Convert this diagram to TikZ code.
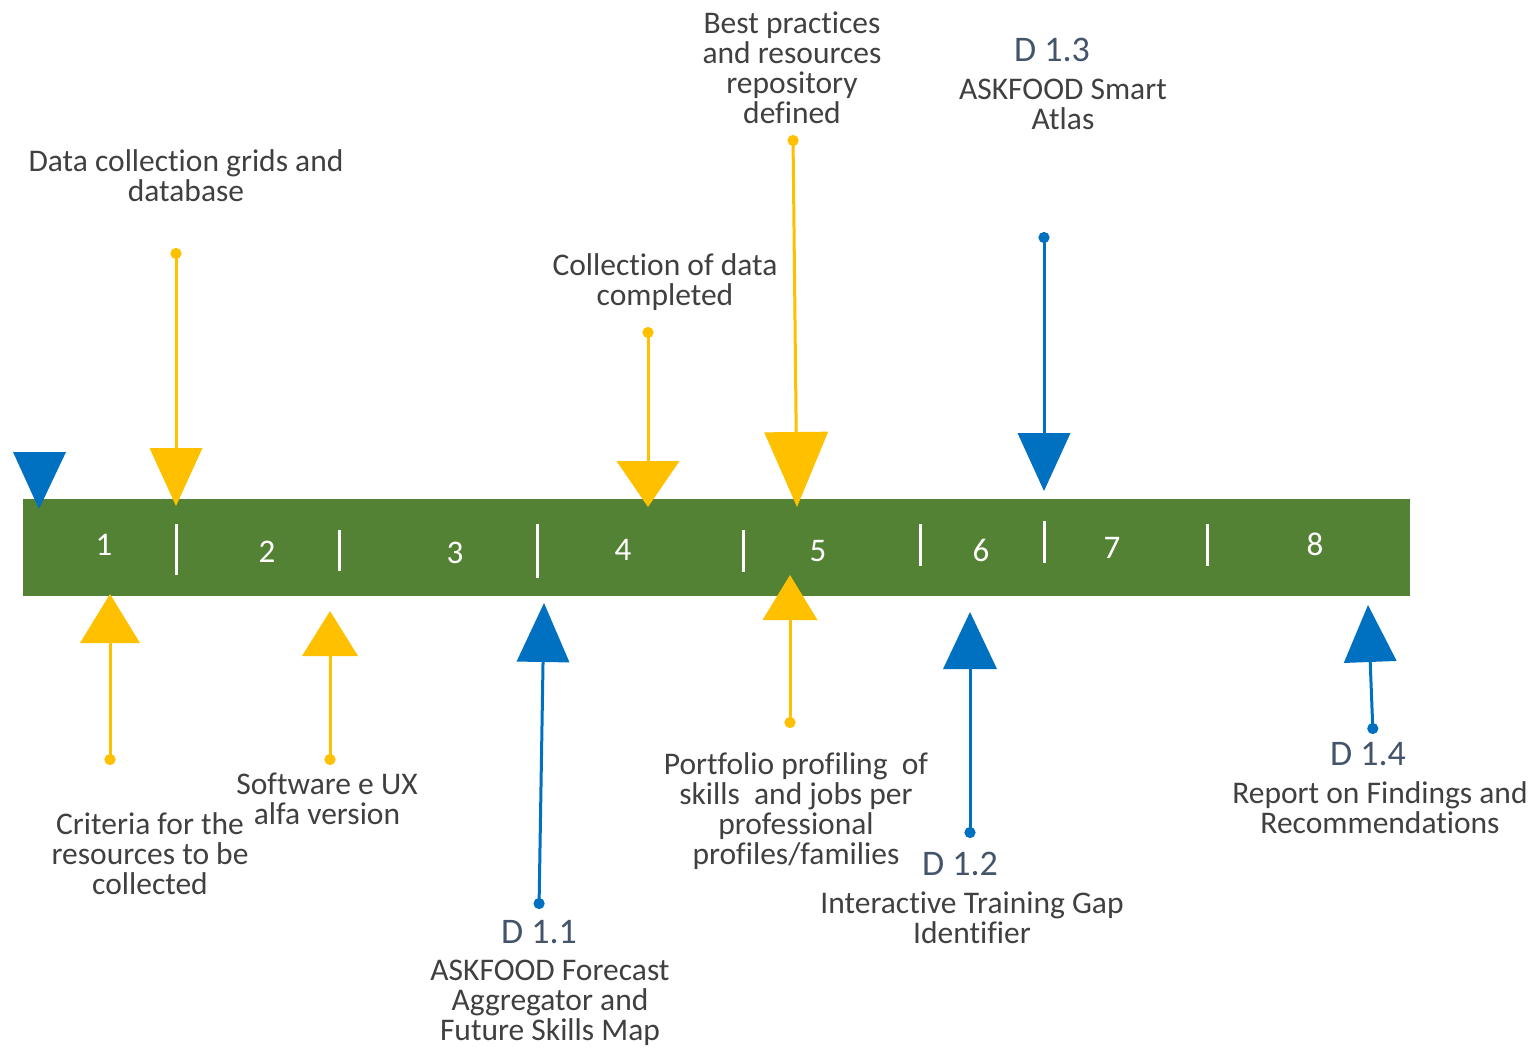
\documentclass[tikz,border=0pt]{standalone}
\usepackage{fontspec}
\setmainfont{Carlito}[Ligatures=NoCommon]
\usetikzlibrary{arrows.meta}
\definecolor{barg}{HTML}{548235}
\definecolor{yel}{HTML}{FFC000}
\definecolor{blu}{HTML}{0070C0}
\definecolor{txt}{HTML}{404040}
\definecolor{dlab}{HTML}{44546A}
\tikzset{
  lbl/.style={font=\fontsize{31.5}{30}\selectfont, text=txt, align=center, inner sep=0pt},
  dlbl/.style={font=\fontsize{36}{40}\selectfont, text=dlab, inner sep=0pt},
  num/.style={font=\fontsize{33}{36}\selectfont, text=white, inner sep=0pt},
  tick/.style={draw=white, line width=3pt},
  yl/.style={draw=yel, fill=yel, line width=3pt},
  bl/.style={draw=blu, fill=blu, line width=3pt},
}
\newcommand{\mtip}[2]{{Circle[length=11pt]}-{Triangle[width=#1pt,length=#2pt,line width=0pt]}}
\begin{document}
\begin{tikzpicture}[x=1pt,y=-1pt]
\useasboundingbox (0,0) rectangle (1534,1050);
% bar
\fill[barg] (23,499) rectangle (1410,596);
\draw[tick] (176,524) -- (176,575);
\draw[tick] (339,530) -- (339,571);
\draw[tick] (537,524) -- (537,578);
\draw[tick] (743,530) -- (743,572);
\draw[tick] (920,524) -- (920,566);
\draw[tick] (1044,521) -- (1044,563);
\draw[tick] (1207,524) -- (1207,566);
\node[num] (n1) at (104,545) {1};
\node[num] (n2) at (267,552) {2};
\node[num] (n3) at (455,553) {3};
\node[num] (n4) at (623,550) {4};
\node[num] (n5) at (818,551) {5};
\node[num] (n6) at (981,550) {6};
\node[num] (n7) at (1112,548) {7};
\node[num] (n8) at (1315,544) {8};
% start marker
\fill[blu] (13,452) -- (66,452) -- (39,509) -- cycle;
% coordinates
\coordinate (a2s) at (176,248); \coordinate (a2e) at (176,506);
\coordinate (a3s) at (648,327); \coordinate (a3e) at (648,507);
\coordinate (a4s) at (793,135); \coordinate (a4e) at (797,507);
\coordinate (a5s) at (1044,232); \coordinate (a5e) at (1044,491);
\coordinate (b1s) at (110,765); \coordinate (b1e) at (110,594);
\coordinate (b2s) at (330,765); \coordinate (b2e) at (330,611);
\coordinate (b3s) at (539,909); \coordinate (b3e) at (544,603);
\coordinate (b4s) at (790,728); \coordinate (b4e) at (790,575);
\coordinate (b5s) at (970,838); \coordinate (b5e) at (970,612);
\coordinate (b6s) at (1373,734); \coordinate (b6e) at (1368,605);
% arrows
\draw[yl, \mtip{53}{58}] (a2s) -- (a2e);
\draw[yl, \mtip{63}{46}] (a3s) -- (a3e);
\draw[yl, \mtip{64}{75}] (a4s) -- (a4e);
\draw[bl, \mtip{53}{58}] (a5s) -- (a5e);
\draw[yl, \mtip{60}{49}] (b1s) -- (b1e);
\draw[yl, \mtip{56}{45}] (b2s) -- (b2e);
\draw[bl, \mtip{53}{59}] (b3s) -- (b3e);
\draw[yl, \mtip{55}{45}] (b4s) -- (b4e);
\draw[bl, \mtip{54}{57}] (b5s) -- (b5e);
\draw[bl, \mtip{53}{57}] (b6s) -- (b6e);
% labels top
\node[lbl] (t2) at (186,176) {Data collection grids and\\database};
\node[lbl] (t4) at (792,68) {Best practices\\and resources\\repository\\defined};
\node[dlbl] (d13) at (1052,50) {D 1.3};
\node[lbl] (t5) at (1063,104) {ASKFOOD Smart\\Atlas};
\node[lbl] (t3) at (665,282) {Collection of data\\completed};
% labels bottom
\node[lbl] (u1) at (150,854) {Criteria for the\\resources to be\\collected};
\node[lbl] (u2) at (327,799) {Software e UX\\alfa version};
\node[dlbl] (d11) at (539,932) {D 1.1};
\node[lbl] (u3) at (550,1003) {ASKFOOD Forecast\\Aggregator and\\Future Skills Map};
\node[lbl] (u4) at (796,811) {Portfolio profiling\ \ of\\skills\ \ and jobs per\\professional\\profiles/families};
\node[dlbl] (d12) at (960,864) {D 1.2};
\node[lbl] (u5) at (972,918) {Interactive Training Gap\\Identifier};
\node[dlbl] (d14) at (1368,754) {D 1.4};
\node[lbl] (u6) at (1380,808) {Report on Findings and\\Recommendations};
\end{tikzpicture}
\end{document}
